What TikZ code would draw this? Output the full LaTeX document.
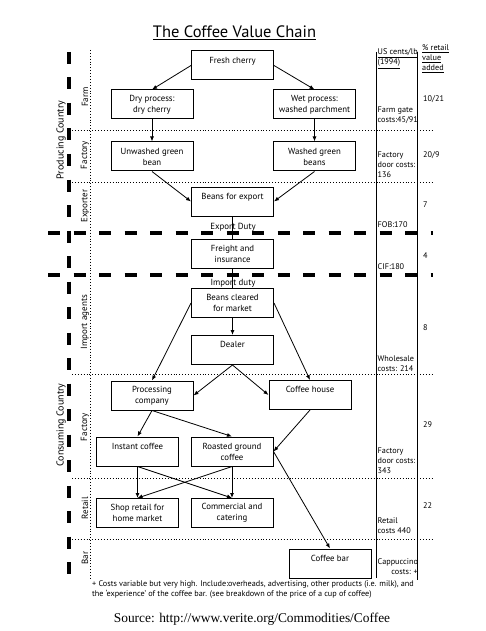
\documentclass[tikz,border=0pt]{standalone}
\usepackage{fontspec}
\setmainfont{PT Sans}
\newfontfamily\srcfont{Liberation Serif}
\usetikzlibrary{arrows.meta}
\tikzset{>=latex}
\tikzstyle{box}=[draw,line width=1pt,minimum width=82pt,minimum height=29pt,inner sep=1.5pt,align=center,font=\fontsize{8.8}{11}\selectfont]
\tikzstyle{flow}=[-{Latex[length=5,width=4]},line width=0.8pt]
\tikzstyle{link}=[line width=0.8pt]
\tikzstyle{thickdash}=[line width=3.3pt,dash pattern=on 12pt off 13.5pt]
\tikzstyle{dotline}=[line width=0.9pt,dotted]
\tikzstyle{band}=[rotate=90,font=\fontsize{9}{10}\selectfont]
\tikzstyle{country}=[rotate=90,font=\fontsize{10}{12}\selectfont]
\tikzstyle{cost}=[anchor=west,align=left,inner sep=1pt,font=\fontsize{8.2}{10}\selectfont]
\def\sep#1{\draw[dotline] (72,#1) -- (432,#1)}

\begin{document}
\begin{tikzpicture}[x=1pt,y=-1pt]
  \useasboundingbox (0,0) rectangle (486,631);

  % TITLE
  \node[font=\fontsize{16.5}{19}\selectfont] (title) at (234.5,33) {\underline{The Coffee Value Chain}};

  % BANDS
  \draw[thickdash] (69,52) -- (69,577);
  \draw[thickdash] (48,233) -- (433,233);
  \draw[thickdash] (48,275) -- (433,275);
  \draw[dotline] (90,50) -- (90,578);
  \sep{130}; \sep{182}; \sep{374}; \sep{478}; \sep{539};
  \draw[line width=1pt] (376,52) -- (376,578);
  \draw[line width=1pt] (417,52) -- (417,580);

  \node[country] (producing) at (61,140) {Producing Country};
  \node[country] (consuming) at (61,425) {Consuming Country};
  \node[band] (farm)     at (85,97)  {Farm};
  \node[band] (factoryA) at (85,155) {Factory};
  \node[band] (exporter) at (85,206) {Exporter};
  \node[band] (agents)   at (85,322) {Import agents};
  \node[band] (factoryB) at (85,427) {Factory};
  \node[band] (retail)   at (85,508) {Retail};
  \node[band] (bar)      at (85,558) {Bar};

  % BOXES
  \node[box] (fresh)      at (232.5,65.5) {Fresh cherry\\\mbox{}};
  \node[box] (dry)        at (152,104.5)  {Dry process:\\dry cherry};
  \node[box] (wet)        at (314.5,104.5) {Wet process:\\washed parchment};
  \node[box] (unwashed)   at (152,156.5)  {Unwashed green\\bean};
  \node[box] (washed)     at (314.5,156.5) {Washed green\\beans};
  \node[box] (export)     at (232.5,201.5) {Beans for export\\\mbox{}};
  \node[box] (freight)    at (232.5,254)  {Freight and\\insurance};
  \node[box] (cleared)    at (232.5,303)  {Beans cleared\\for market};
  \node[box] (dealer)     at (232.5,350)  {Dealer\\\mbox{}};
  \node[box] (processing) at (152,395.5)  {Processing\\company};
  \node[box] (house)      at (310,395)    {Coffee house\\\mbox{}};
  \node[box] (instant)    at (137.5,451.5) {Instant coffee\\\mbox{}};
  \node[box] (roasted)    at (232,451.5)  {Roasted ground\\coffee};
  \node[box] (shop)       at (137.5,513)  {Shop retail for\\home market};
  \node[box] (commercial) at (232,513)    {Commercial and\\catering};
  \node[box] (coffeebar)  at (330,563.5)  {Coffee bar\\\mbox{}};

  % FLOW
  \draw[flow] (fresh.west) -- (dry.north);
  \draw[flow] (fresh.east) -- (wet.north);
  \draw[flow] (dry.south) -- (unwashed.north);
  \draw[flow] (wet.south) -- (washed.north);
  \draw[flow] (unwashed.south) -- (export.west);
  \draw[flow] (washed.south) -- (export.east);
  \draw[link] (export.south) -- (freight.north);
  \draw[link] (freight.south) -- (cleared.north);
  \node[font=\fontsize{8.9}{10}\selectfont] (exduty) at (233,227) {Export Duty};
  \node[font=\fontsize{8.9}{10}\selectfont] (imduty) at (233,283) {Import duty};
  \draw[flow] (cleared.south) -- (dealer.north);
  \draw[flow] (cleared.west) -- (processing.north);
  \draw[flow] (cleared.east) -- (house.north);
  \draw[flow] (dealer.south) -- (processing.east);
  \draw[flow] (dealer.south) -- (house.west);
  \draw[flow] (processing.south) -- (instant.north);
  \draw[flow] (processing.south) -- (roasted.north);
  \draw[flow] (house.south) -- (roasted.east);
  \draw[flow] (roasted.east) -- (coffeebar.north);
  \draw[flow] (instant.south) -- (shop.north);
  \draw[flow] (instant.south) -- (commercial.north);
  \draw[flow] (roasted.south) -- (shop.north);
  \draw[flow] (roasted.south) -- (commercial.north);

  % COSTS
  \node[cost] (hcents) at (376.5,58.5) {\underline{US cents/lb}\\\underline{(1994)}};
  \node[cost] (hretail) at (421,58.5) {\underline{\% retail}\\\underline{value}\\\underline{added}};
  \node[cost] (c1) at (376.5,115) {Farm gate\\costs:45/91};
  \node[cost] (c2) at (376.5,165) {Factory\\door costs:\\136};
  \node[cost] (c3) at (376.5,225) {FOB:170};
  \node[cost] (c4) at (376.5,267) {CIF:180};
  \node[cost] (c5) at (376.5,364) {Wholesale\\costs: 214};
  \node[cost] (c6) at (376.5,461) {Factory\\door costs:\\343};
  \node[cost] (c7) at (376.5,526) {Retail\\costs 440};
  \node[cost,align=right] (c8) at (376.5,567) {Cappuccino\\costs: +};
  \node[cost] (p1) at (422,99)  {10/21};
  \node[cost] (p2) at (422,155) {20/9};
  \node[cost] (p3) at (422,205) {7};
  \node[cost] (p4) at (422,256) {4};
  \node[cost] (p5) at (422,328) {8};
  \node[cost] (p6) at (422,425) {29};
  \node[cost] (p7) at (422,506) {22};

  % NOTES
  \node[cost,anchor=north west] (note) at (91,579) {+ Costs variable but very high. Include:overheads, advertising, other products (i.e. milk), and\\the `experience' of the coffee bar. (see breakdown of the price of a cup of coffee)};
  \node[font=\srcfont\fontsize{13.4}{15}\selectfont] (source) at (252,619) {Source: http://www.verite.org/Commodities/Coffee};
\end{tikzpicture}
\end{document}
